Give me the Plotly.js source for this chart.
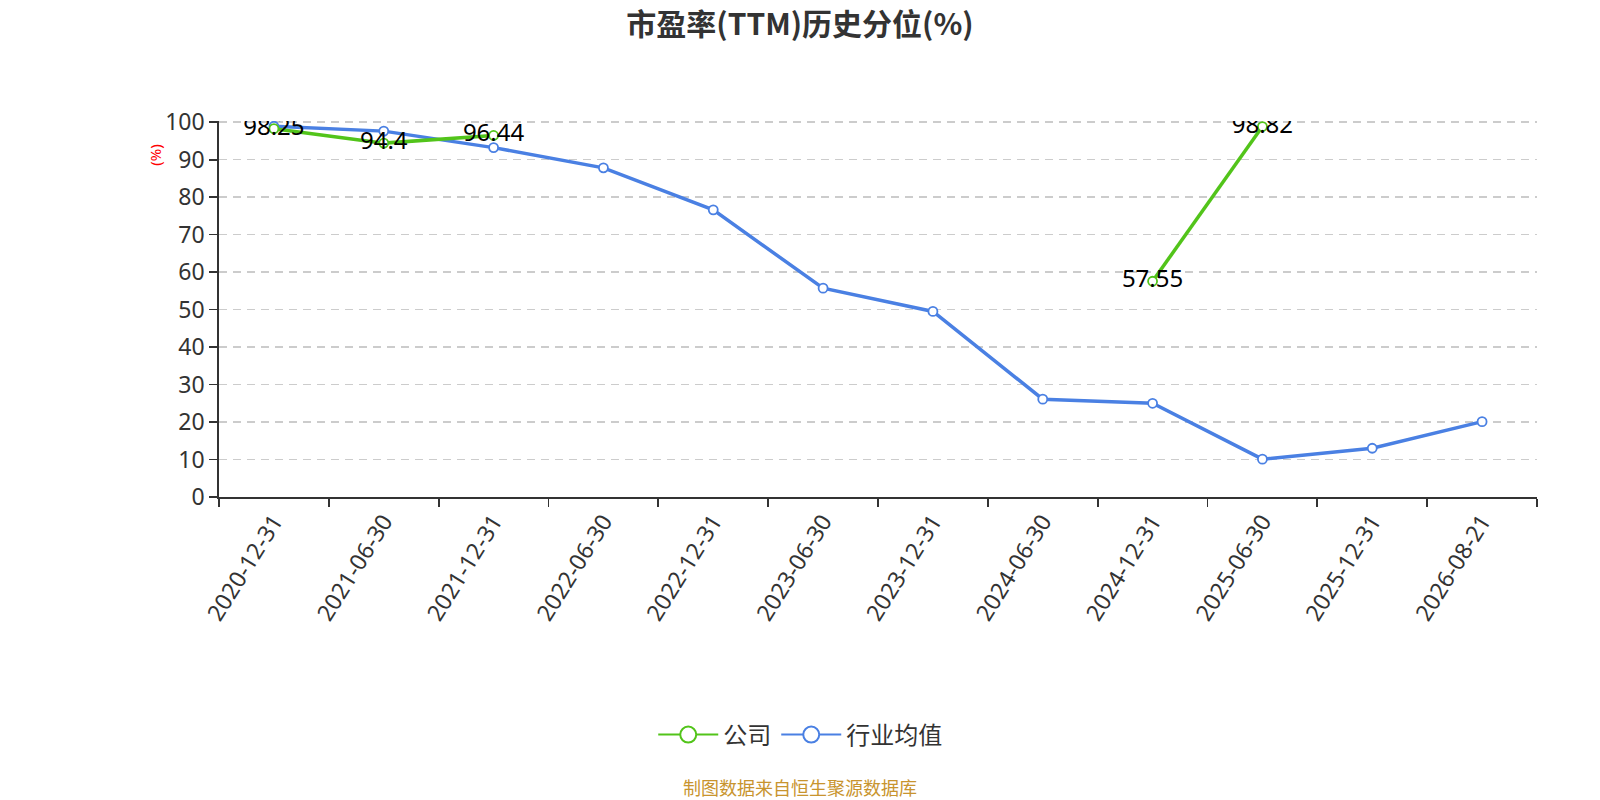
<!DOCTYPE html>
<html>
<head>
<meta charset="utf-8">
<script src="https://cdn.plot.ly/plotly-3.0.1.min.js"></script>
<style>html,body{margin:0;padding:0;background:#fff;}#chart{width:1600px;height:800px;}</style>
</head>
<body>
<div id="chart"></div>
<script>
const categories = ["2020-12-31","2021-06-30","2021-12-31","2022-06-30","2022-12-31","2023-06-30","2023-12-31","2024-06-30","2024-12-31","2025-06-30","2025-12-31","2026-08-21"];
const companyValues = [98.25, 94.4, 96.44, null, null, null, null, null, 57.55, 98.82, null, null];
const industryValues = [98.9, 97.6, 93.2, 87.8, 76.6, 55.7, 49.5, 26.1, 25.0, 10.1, 13.0, 20.1];
const seriesNames = ["公司", "行业均值"];
const yTicks = [0,10,20,30,40,50,60,70,80,90,100];

const FONT = '"Noto Sans", "Noto Sans CJK SC", sans-serif';
const CJK = '"Noto Sans CJK SC", "Noto Sans", sans-serif';
const green = "#52c41a";
const blue = "#4a80e3";

const traces = [
  {
    x: categories, y: industryValues, name: seriesNames[1], type: "scatter", mode: "lines+markers",
    line: {color: blue, width: 3.5},
    marker: {symbol: "circle", size: 9, color: "#fff", line: {color: blue, width: 1.8}},
    showlegend: false
  },
  {
    x: categories, y: companyValues, name: seriesNames[0], type: "scatter", mode: "lines+markers",
    line: {color: green, width: 3.5},
    marker: {symbol: "circle", size: 9, color: "#fff", line: {color: green, width: 1.8}},
    connectgaps: false,
    showlegend: false
  },
  {
    x: categories, y: companyValues, type: "scatter", mode: "text",
    text: companyValues.map(v => v === null ? "" : String(v)),
    textposition: "middle center",
    textfont: {family: FONT, size: 24, color: "#000"},
    showlegend: false
  },
  {
    x: [null], y: [null], name: seriesNames[0], type: "scatter", mode: "lines+markers",
    line: {color: green, width: 2},
    marker: {symbol: "circle", size: 16, color: "#fff", line: {color: green, width: 2}},
    legendrank: 1
  },
  {
    x: [null], y: [null], name: seriesNames[1], type: "scatter", mode: "lines+markers",
    line: {color: blue, width: 2},
    marker: {symbol: "circle", size: 16, color: "#fff", line: {color: blue, width: 2}},
    legendrank: 2
  }
];

const layout = {
  width: 1600, height: 800,
  margin: {l: 219, r: 63, t: 121, b: 303},
  paper_bgcolor: "#fff", plot_bgcolor: "#fff",
  font: {family: FONT, color: "#333"},
  title: {
    text: "<b>市盈率(TTM)历史分位(%)</b>",
    font: {family: CJK, size: 30, color: "#333"},
    x: 0.5, xanchor: "center", y: 0.97, yanchor: "middle", yref: "container"
  },
  xaxis: {
    type: "category",
    categoryorder: "array", categoryarray: categories,
    range: [-0.5, 11.5],
    tickson: "boundaries",
    ticks: "outside", ticklen: 8, tickcolor: "#333", tickwidth: 1.8,
    showline: true, linecolor: "#333", linewidth: 1.8,
    showgrid: false, zeroline: false,
    tickangle: -58,
    tickfont: {family: FONT, size: 23, color: "#333"},
    fixedrange: true
  },
  yaxis: {
    range: [0, 100.3],
    tickmode: "array", tickvals: yTicks,
    ticks: "outside", ticklen: 8, tickcolor: "#333", tickwidth: 1.8,
    showline: true, linecolor: "#333", linewidth: 1.8,
    showgrid: true, gridcolor: "#cccccc", griddash: "8px,6px", gridwidth: 1.5,
    zeroline: false,
    tickfont: {family: FONT, size: 23, color: "#333"},
    fixedrange: true
  },
  legend: {
    orientation: "h", x: 0.441, xanchor: "center", y: -0.633, yanchor: "middle",
    font: {family: CJK, size: 24, color: "#333"},
    itemwidth: 60
  },
  annotations: [
    {
      text: "(%)", xref: "paper", yref: "paper", x: -0.0486, y: 0.91,
      xanchor: "center", yanchor: "middle", showarrow: false, textangle: -90,
      font: {family: FONT, size: 15, color: "#ff0000"}
    },
    {
      text: "制图数据来自恒生聚源数据库", xref: "paper", yref: "paper",
      x: 0.441, y: -0.771, xanchor: "center", yanchor: "middle", showarrow: false,
      font: {family: CJK, size: 18, color: "#c8942e"}
    }
  ],
  showlegend: true
};

Plotly.newPlot("chart", traces, layout, {displayModeBar: false, staticPlot: true});
</script>
</body>
</html>
